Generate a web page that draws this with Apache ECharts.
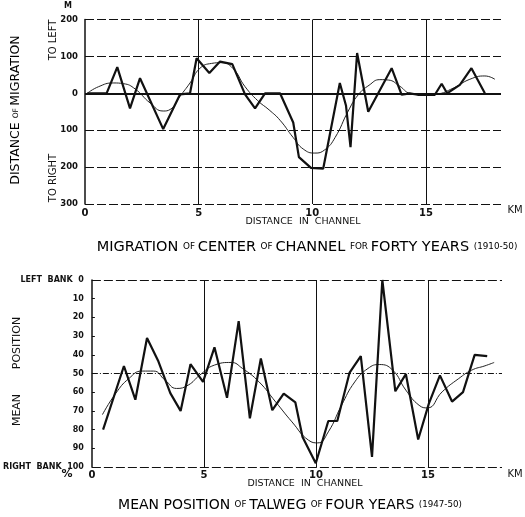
<!DOCTYPE html>
<html>
<head>
<meta charset="utf-8">
<script src="https://cdn.jsdelivr.net/npm/echarts@6/dist/echarts.min.js"></script>
<style>
html,body{margin:0;padding:0;background:#fff;}
#chart{width:525px;height:517px;}
</style>
</head>
<body>
<div id="chart"></div>
<script>
// ---- Data: migration of center of channel (m), + = to left, - = to right
var migKm  = [0.1, 0.95, 1.42, 1.98, 2.42, 3.44, 4.18, 4.62, 4.91, 5.47, 5.94, 6.48, 7.04, 7.48, 7.92, 8.58, 9.16, 9.41, 9.94, 10.48, 11.21, 11.48, 11.68, 11.97, 12.46, 13.49, 13.93, 14.29, 14.64, 15.39, 15.69, 15.93, 16.49, 17.0, 17.59];
var migVal = [0, 0, 71, -41, 41, -97, -3, 0, 95, 55, 86, 79, -3, -41, 0, 0, -79, -173, -202, -204, 28, -33, -146, 109, -50, 68, -4, 0, -4, -4, 26, 0, 23, 68, 0];
var migSmKm  = [0.1, 0.6, 1.24, 1.7, 2.2, 2.86, 3.44, 3.74, 4.18, 4.62, 5.06, 5.57, 6.0, 6.5, 7.04, 7.6, 8.1, 8.58, 9.16, 9.6, 10.11, 10.55, 11.0, 11.58, 12.02, 12.5, 12.97, 13.34, 13.85, 14.29, 14.88, 15.47, 16.2, 16.93, 17.59, 18.03];
var migSmVal = [0, 18, 28, 26, 12, -26, -48, -44, -8, 28, 68, 81, 83, 68, 18, -20, -45, -73, -120, -151, -162, -153, -120, -48, -4, 22, 37, 36, 19, 0, -4, -2, 14, 38, 47, 38];

// ---- Data: mean position of talweg (% from left bank)
var talKm  = [0.5, 1.43, 1.94, 2.46, 2.95, 3.5, 3.96, 4.4, 4.96, 5.47, 6.03, 6.55, 7.05, 7.54, 8.05, 8.56, 9.08, 9.4, 9.99, 10.55, 10.95, 11.5, 12.0, 12.5, 12.96, 13.54, 14.01, 14.56, 15.04, 15.53, 16.07, 16.56, 17.08, 17.64];
var talVal = [80, 46, 64, 31, 43, 60.5, 70, 45, 54.5, 36, 63, 22, 74, 42, 69.6, 60.7, 65.5, 84, 98, 75.4, 75.4, 49.5, 40.7, 94.6, 0, 59.5, 50.3, 85.3, 66, 51, 65, 60, 40, 40.7];
var talSmKm  = [0.47, 1.06, 1.65, 2.24, 2.75, 3.27, 3.78, 4.3, 4.81, 5.47, 6.21, 6.72, 7.46, 8.2, 8.93, 9.67, 10.08, 10.55, 11.14, 11.73, 12.32, 12.83, 13.42, 14.01, 14.6, 14.97, 15.63, 16.37, 16.95, 17.54, 17.95];
var talSmVal = [72, 60.7, 52.7, 48.7, 48.7, 53.6, 58, 56.2, 50.9, 45.5, 44.1, 47.3, 54.5, 65.2, 75.9, 85.7, 87.1, 81.2, 67, 54.5, 47.3, 45.2, 48.2, 58.9, 67, 68.4, 59.8, 52.7, 48.2, 45.9, 44.1];

var xTicks = [0, 5, 10, 15];
var migTicks = [200, 100, 0, -100, -200, -300];
var talTicks = [0, 10, 20, 30, 40, 50, 60, 70, 80, 90, 100];

function pairs(xs, ys){ return xs.map(function(x,i){ return [x, ys[i]]; }); }

var FONT = '"DejaVu Sans", sans-serif';
var INK = '#111';

var dashStyle = {color: INK, width: 1, type: [9, 3]};

var chart = echarts.init(document.getElementById('chart'), null, {renderer: 'canvas'});

var xAxisBase = {
  type: 'value', min: 0, max: 18.3, interval: 5,
  axisLine: {show: false}, axisTick: {show: false}, splitLine: {show: false},
  axisLabel: {
    color: INK, fontFamily: FONT, fontSize: 10, fontWeight: 'bold',
    formatter: function(v){ return xTicks.indexOf(v) >= 0 ? String(v) : ''; }
  }
};

var option = {
  backgroundColor: '#fff',
  animation: false,
  grid: [
    {left: 85, right: 24, top: 19.5, bottom: 313},
    {left: 86, right: 23, top: 280, bottom: 50}
  ],
  xAxis: [
    Object.assign({}, xAxisBase, {gridIndex: 0, axisLabel: Object.assign({}, xAxisBase.axisLabel, {margin: 4})}),
    Object.assign({}, xAxisBase, {gridIndex: 1, axisLabel: Object.assign({}, xAxisBase.axisLabel, {margin: 3})})
  ],
  yAxis: [
    {
      gridIndex: 0, type: 'value', min: -300, max: 200, interval: 100,
      axisLine: {show: true, lineStyle: {color: INK, width: 1.5}},
      axisTick: {show: false}, splitLine: {show: false},
      axisLabel: {color: INK, fontFamily: FONT, fontSize: 8.5, fontWeight: 'bold', margin: 7,
        formatter: function(v){ return migTicks.indexOf(v) >= 0 ? String(Math.abs(v)) : ''; }}
    },
    {
      gridIndex: 1, type: 'value', min: 0, max: 100, interval: 10, inverse: true,
      axisLine: {show: true, lineStyle: {color: INK, width: 1.5}},
      axisTick: {show: true, inside: true, length: 3, lineStyle: {color: INK, width: 1}},
      splitLine: {show: false},
      axisLabel: {color: INK, fontFamily: FONT, fontSize: 8, fontWeight: 'bold', margin: 8,
        formatter: function(v){
          if (v === 0) return 'LEFT  BANK  0';
          if (v === 100) return 'RIGHT  BANK  100';
          return talTicks.indexOf(v) >= 0 ? String(v) : '';
        }}
    }
  ],
  series: [
    {
      type: 'line', xAxisIndex: 0, yAxisIndex: 0, data: pairs(migSmKm, migSmVal),
      smooth: 0.5, symbol: 'none', lineStyle: {color: '#222', width: 1}, z: 3,
      markLine: {
        silent: true, symbol: 'none', label: {show: false},
        data: [
          {yAxis: 200, lineStyle: dashStyle},
          {yAxis: 100, lineStyle: dashStyle},
          {yAxis: -100, lineStyle: dashStyle},
          {yAxis: -200, lineStyle: dashStyle},
          {yAxis: -300, lineStyle: dashStyle},
          {yAxis: 0, lineStyle: {color: INK, width: 2, type: 'solid'}},
          {xAxis: 5, lineStyle: {color: INK, width: 1, type: 'solid'}},
          {xAxis: 10, lineStyle: {color: INK, width: 1, type: 'solid'}},
          {xAxis: 15, lineStyle: {color: INK, width: 1, type: 'solid'}}
        ]
      }
    },
    {
      type: 'line', xAxisIndex: 0, yAxisIndex: 0, data: pairs(migKm, migVal),
      symbol: 'none', lineStyle: {color: INK, width: 2.2}, z: 4
    },
    {
      type: 'line', xAxisIndex: 1, yAxisIndex: 1, data: pairs(talSmKm, talSmVal),
      smooth: 0.5, symbol: 'none', lineStyle: {color: '#222', width: 1}, z: 3,
      markLine: {
        silent: true, symbol: 'none', label: {show: false},
        data: [
          {yAxis: 0, lineStyle: dashStyle},
          {yAxis: 100, lineStyle: dashStyle},
          {yAxis: 50, lineStyle: {color: INK, width: 1, type: [6, 2, 1, 2]}},
          {xAxis: 5, lineStyle: {color: INK, width: 1, type: 'solid'}},
          {xAxis: 10, lineStyle: {color: INK, width: 1, type: 'solid'}},
          {xAxis: 15, lineStyle: {color: INK, width: 1, type: 'solid'}}
        ]
      }
    },
    {
      type: 'line', xAxisIndex: 1, yAxisIndex: 1, data: pairs(talKm, talVal),
      symbol: 'none', lineStyle: {color: INK, width: 2.2}, z: 4
    }
  ],
  graphic: [
    {type: 'text', left: 64, top: 2, style: {text: 'M', fill: INK, font: 'bold 8px ' + FONT}},
    {type: 'text', x: 515, y: 210, style: {text: 'KM', fill: INK, font: '10px ' + FONT, align: 'center', verticalAlign: 'middle'}},
    {type: 'text', x: 515, y: 474, style: {text: 'KM', fill: INK, font: '10px ' + FONT, align: 'center', verticalAlign: 'middle'}},
    {type: 'text', x: 67, y: 474, style: {text: '%', fill: INK, font: 'bold 11px ' + FONT, align: 'center', verticalAlign: 'middle'}},
    {type: 'text', x: 16, y: 110, rotation: Math.PI / 2,
      style: {text: '{a|DISTANCE }{s|OF }{a|MIGRATION}', align: 'center', verticalAlign: 'middle',
        rich: {a: {fontFamily: FONT, fontSize: 12.5, color: INK}, s: {fontFamily: FONT, fontSize: 7.5, color: INK}}}},
    {type: 'text', x: 53, y: 40, rotation: Math.PI / 2,
      style: {text: 'TO LEFT', fill: INK, font: '10px ' + FONT, align: 'center', verticalAlign: 'middle'}},
    {type: 'text', x: 53, y: 178, rotation: Math.PI / 2,
      style: {text: 'TO RIGHT', fill: INK, font: '10px ' + FONT, align: 'center', verticalAlign: 'middle'}},
    {type: 'text', x: 17, y: 343, rotation: Math.PI / 2,
      style: {text: 'POSITION', fill: INK, font: '11px ' + FONT, align: 'center', verticalAlign: 'middle'}},
    {type: 'text', x: 17, y: 410, rotation: Math.PI / 2,
      style: {text: 'MEAN', fill: INK, font: '11px ' + FONT, align: 'center', verticalAlign: 'middle'}},
    {type: 'text', x: 303, y: 222, style: {text: 'DISTANCE  IN  CHANNEL', fill: INK, font: '9.5px ' + FONT, align: 'center', verticalAlign: 'middle'}},
    {type: 'text', x: 305, y: 484, style: {text: 'DISTANCE  IN  CHANNEL', fill: INK, font: '9.5px ' + FONT, align: 'center', verticalAlign: 'middle'}},
    {type: 'text', x: 307, y: 247,
      style: {text: '{a|MIGRATION }{s|OF }{a|CENTER }{s|OF }{a|CHANNEL }{s|FOR }{a|FORTY YEARS }{s|(1910-50)}',
        align: 'center', verticalAlign: 'middle',
        rich: {a: {fontFamily: FONT, fontSize: 14.5, color: INK}, s: {fontFamily: FONT, fontSize: 8.8, color: INK}}}},
    {type: 'text', x: 290, y: 505,
      style: {text: '{a|MEAN POSITION }{s|OF }{a|TALWEG }{s|OF }{a|FOUR YEARS }{s|(1947-50)}',
        align: 'center', verticalAlign: 'middle',
        rich: {a: {fontFamily: FONT, fontSize: 14, color: INK}, s: {fontFamily: FONT, fontSize: 8.7, color: INK}}}}
  ]
};
chart.setOption(option);
</script>
</body>
</html>
